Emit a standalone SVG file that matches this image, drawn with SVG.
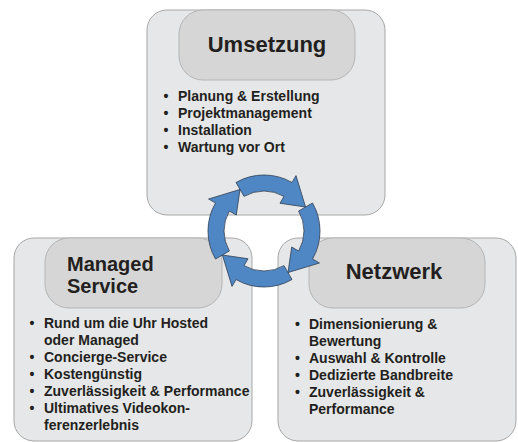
<svg xmlns="http://www.w3.org/2000/svg" width="518" height="442" viewBox="0 0 518 442">
<style>
.box{fill:#e6e7e8;stroke:#a7a7a7;stroke-width:1}
.hdr{fill:#d6d6d6;stroke:#b5b5b5;stroke-width:1}
.ttl{font-family:"Liberation Sans",Arial,sans-serif;font-weight:bold;font-size:22px;fill:#231f20}
.ttl2{font-family:"Liberation Sans",Arial,sans-serif;font-weight:bold;font-size:20px;fill:#231f20}
.li{font-family:"Liberation Sans",Arial,sans-serif;font-weight:bold;font-size:14px;fill:#231f20}
.arr{fill:#4f87c5;stroke:#2e3d52;stroke-width:0.8;stroke-linejoin:miter}
</style>
<rect width="518" height="442" fill="#ffffff"/>
<g id="umsetzung">
<rect class="box" x="147" y="10" width="238" height="205" rx="20"/>
<rect class="hdr" x="179" y="10" width="176" height="70" rx="24"/>
<text class="ttl" x="267" y="52" text-anchor="middle">Umsetzung</text>
<text class="li" x="163.5" y="101">•</text><text class="li" x="178" y="101">Planung &amp; Erstellung</text>
<text class="li" x="163.5" y="118">•</text><text class="li" x="178" y="118">Projektmanagement</text>
<text class="li" x="163.5" y="135">•</text><text class="li" x="178" y="135">Installation</text>
<text class="li" x="163.5" y="152">•</text><text class="li" x="178" y="152">Wartung vor Ort</text>
</g>
<g id="managed-service">
<rect class="box" x="14" y="238" width="238" height="203" rx="20"/>
<rect class="hdr" x="45" y="238" width="177" height="70" rx="24"/>
<text class="ttl2" x="67" y="271">Managed</text>
<text class="ttl2" x="67" y="293">Service</text>
<text class="li" x="29.5" y="328">•</text><text class="li" x="44" y="328">Rund um die Uhr Hosted</text>
<text class="li" x="44" y="345">oder Managed</text>
<text class="li" x="29.5" y="362">•</text><text class="li" x="44" y="362">Concierge-Service</text>
<text class="li" x="29.5" y="379">•</text><text class="li" x="44" y="379">Kostengünstig</text>
<text class="li" x="29.5" y="396">•</text><text class="li" x="44" y="396">Zuverlässigkeit &amp; Performance</text>
<text class="li" x="29.5" y="413">•</text><text class="li" x="44" y="413">Ultimatives Videokon-</text>
<text class="li" x="44" y="430">ferenzerlebnis</text>
</g>
<g id="netzwerk">
<rect class="box" x="278" y="238" width="238" height="203" rx="20"/>
<rect class="hdr" x="309" y="238" width="176" height="70" rx="24"/>
<text class="ttl" x="394" y="279" text-anchor="middle">Netzwerk</text>
<text class="li" x="295" y="329">•</text><text class="li" x="309" y="329">Dimensionierung &amp;</text>
<text class="li" x="309" y="346">Bewertung</text>
<text class="li" x="295" y="363">•</text><text class="li" x="309" y="363">Auswahl &amp; Kontrolle</text>
<text class="li" x="295" y="380">•</text><text class="li" x="309" y="380">Dedizierte Bandbreite</text>
<text class="li" x="295" y="397">•</text><text class="li" x="309" y="397">Zuverlässigkeit &amp;</text>
<text class="li" x="309" y="414">Performance</text>
</g>
<g id="connectors">
<path class="arr" d="M236,182.5 A56,56 0 0 1 292,182.5 L296,175.57 L305.57,207 L280,203.29 L284,196.36 A40,40 0 0 0 244,196.36 Z"/>
<path class="arr" d="M312.5,203 A56,56 0 0 1 312.5,259 L319.43,263 L288,272.57 L291.71,247 L298.64,251 A40,40 0 0 0 298.64,211 Z"/>
<path class="arr" d="M292,279.5 A56,56 0 0 1 236,279.5 L232,286.43 L222.43,255 L248,258.71 L244,265.64 A40,40 0 0 0 284,265.64 Z"/>
<path class="arr" d="M215.5,259 A56,56 0 0 1 215.5,203 L208.57,199 L240,189.43 L236.29,215 L229.36,211 A40,40 0 0 0 229.36,251 Z"/>
</g>
</svg>
